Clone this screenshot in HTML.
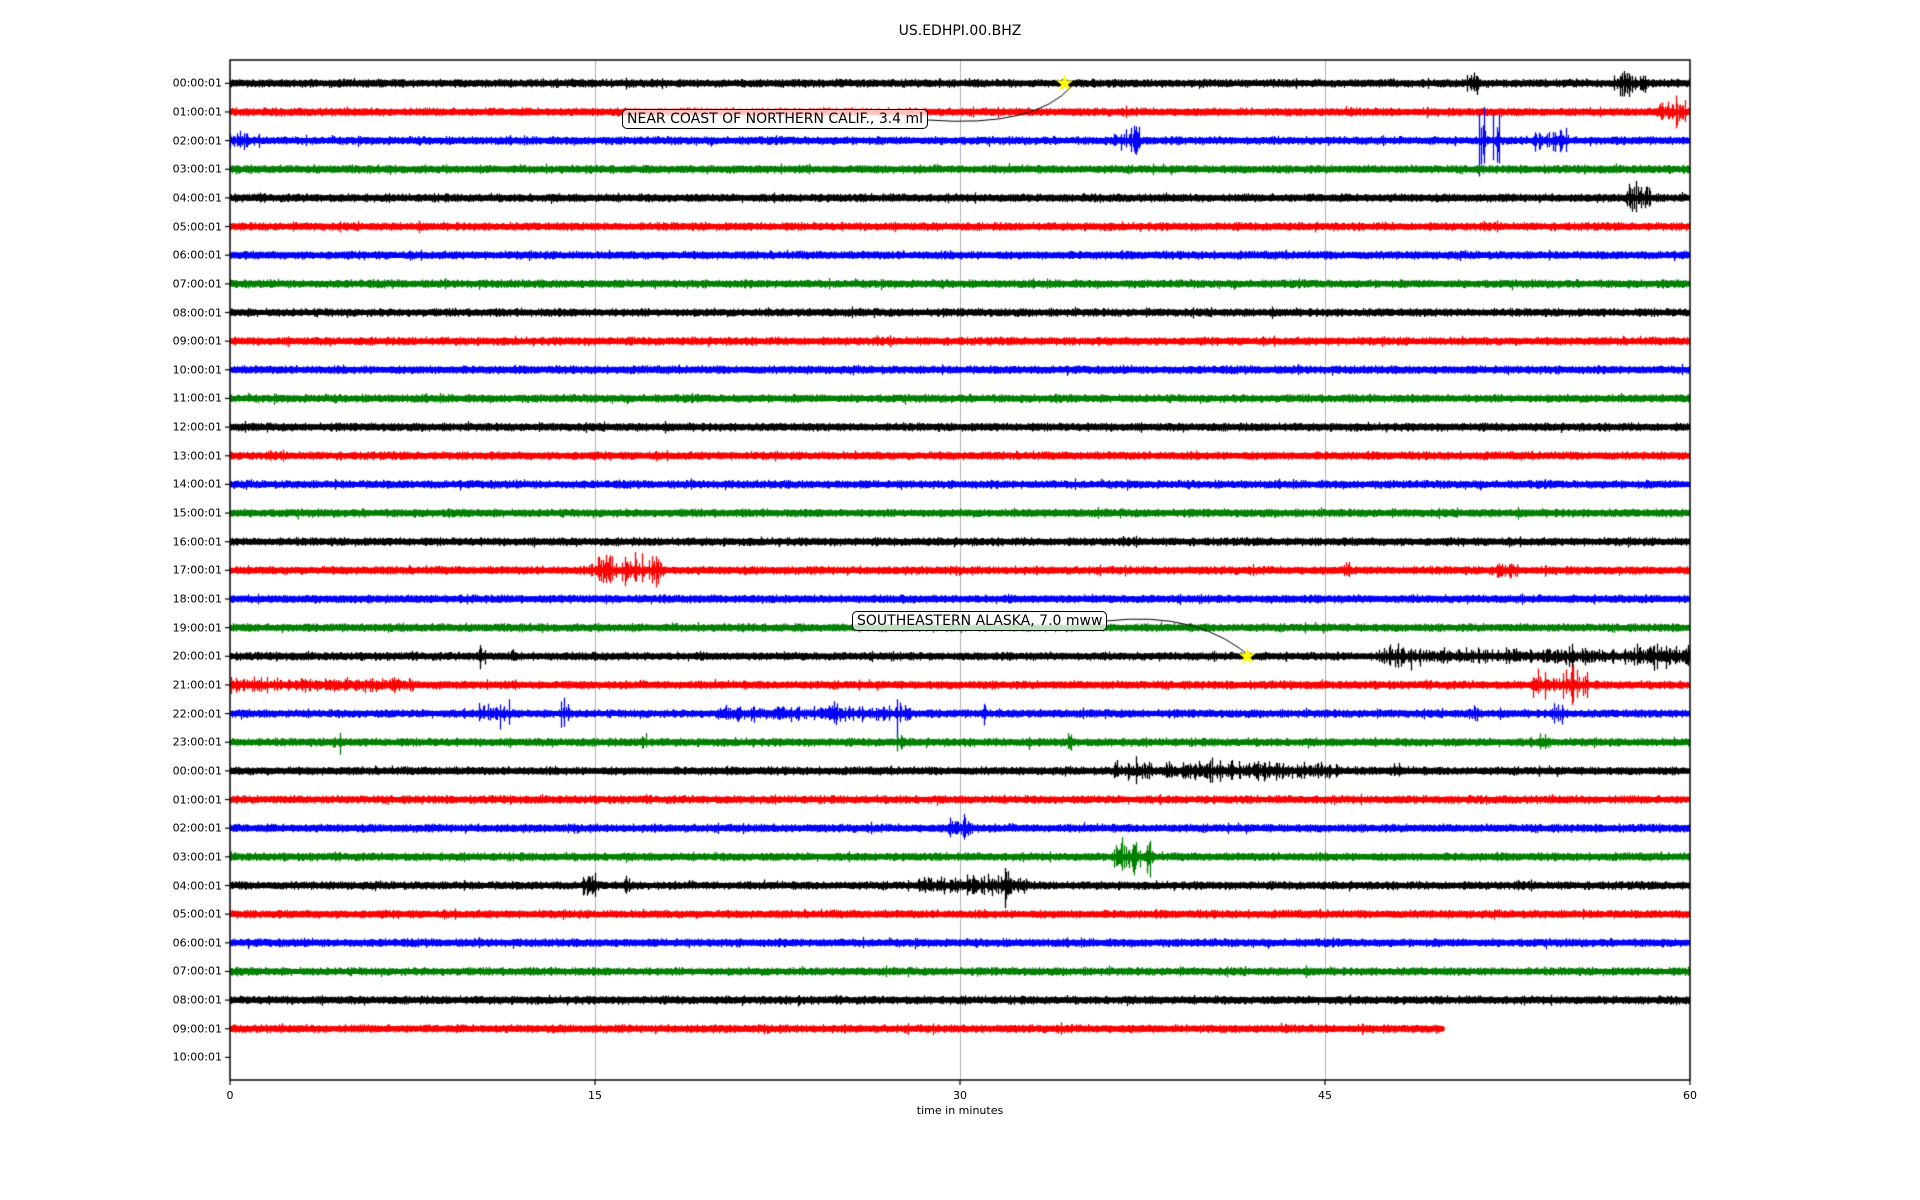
<!DOCTYPE html>
<html><head><meta charset="utf-8"><style>
html,body{margin:0;padding:0;background:#fff;}
body{width:1920px;height:1200px;position:relative;overflow:hidden;font-family:"DejaVu Sans","Liberation Sans",sans-serif;}
canvas{position:absolute;left:0;top:0;}
.t{position:absolute;white-space:nowrap;color:#000;}
.yl{font-size:11px;right:1698px;transform:translateY(-50%);}
.xl{font-size:11px;transform:translateX(-50%);top:1089px;}
.box{position:absolute;font-size:14px;border:1px solid #000;border-radius:5px;background:rgba(255,255,255,0.75);padding:1px 4px;white-space:nowrap;transform:translateY(-50%);}
</style></head><body>
<canvas id="c" width="1920" height="1200"></canvas>
<div class="t" style="left:0;width:1920px;text-align:center;top:23px;font-size:14px;">US.EDHPI.00.BHZ</div>
<div class="t" style="left:0;width:1920px;text-align:center;top:1104px;font-size:11px;">time in minutes</div>
<div id="labels"></div>
<div class="box" style="left:622px;top:119px;">NEAR COAST OF NORTHERN CALIF., 3.4 ml</div>
<div class="box" style="left:852px;top:621px;">SOUTHEASTERN ALASKA, 7.0 mww</div>
<script>
const L=230,R=1690,T=60,B=1080,Y0=83.3,DY=28.65;
const xm=m=>L+(R-L)*m/60;
const ry=r=>Y0+DY*r;
const c=document.getElementById('c').getContext('2d');
let s=12345;function rnd(){s=(s*1103515245+12345)&0x7fffffff;return s/0x7fffffff;}
c.strokeStyle='#b0b0b0';c.lineWidth=1;
[15,30,45].forEach(m=>{c.beginPath();c.moveTo(Math.round(xm(m))+.5,T);c.lineTo(Math.round(xm(m))+.5,B);c.stroke();});
const cols=['#000','#f00','#00f','#008000'];
const ev=[[0,50.8,51.3,8],[0,56.8,58.2,10],[1,58.7,59.8,13],[2,0,1.2,6],[2,36.3,37.4,13],[2,51.3,51.6,30],[2,51.9,52.2,28],[2,53.5,55,10],
[4,57.3,58.4,13],[17,14.8,17.8,14],[17,15.1,15.5,30],[17,45.7,46,5],[17,51.8,53,5],[20,10.1,10.5,10],[20,11.5,11.8,6],[20,47.2,49,10],[20,49,60,5],[20,55,55.2,12],[20,57.8,60,11],
[21,0,7.5,5],[21,53.5,55.8,12],[21,54.9,55.2,25],[22,10.2,11.5,11],[22,13.5,14,12],[22,20,28,5],[22,24.5,26,9],[22,27.4,27.6,20],[22,27.7,28,14],[22,30.9,31.1,12],[22,50.8,51.3,7],[22,54.3,54.8,10],
[23,4.1,4.6,11],[23,16.8,17.1,6],[23,27.4,27.7,12],[23,32.7,33,6],[23,34.3,34.6,10],[23,53.8,54.2,6],
[24,36.3,45.5,7],[24,37.2,37.5,14],[24,40.1,40.4,17],[24,41,41.3,12],[24,42,42.3,14],[24,47.8,48.1,5],
[26,29.5,30.5,8],[26,30.1,30.3,11],[27,36.3,38,15],[28,14.5,15,12],[28,15,15.2,14],[28,16.2,16.5,9],[28,28.3,32.8,8],[28,31.8,32,22],[28,32.4,32.8,12],[32,23.3,23.4,5]];
for(let r=0;r<34;r++){
  const y=ry(r);c.strokeStyle=cols[r%4];c.lineWidth=1.3;
  const end=(r==33)?49.8:60;
  const xe=xm(end);
  c.beginPath();
  for(let x=L;x<xe;x+=1){
    const m=(x-L)/(R-L)*60;
    let a=2.6+rnd()*1.4;
    if(rnd()<0.02)a+=1.5;
    for(const e of ev){if(e[0]==r&&m>=e[1]&&m<=e[2]){a=Math.max(a,3+e[3]*Math.pow(rnd(),2.2));}}
    const up=a*(0.6+rnd()*0.6),dn=a*(0.6+rnd()*0.6);
    c.moveTo(x+.5,y-up);c.lineTo(x+.5,y+dn);
  }
  c.stroke();
  c.lineWidth=5;c.beginPath();c.moveTo(L,y);c.lineTo(xe,y);c.stroke();
  if(r==33){c.lineCap='round';c.lineWidth=6;c.beginPath();c.moveTo(xe-3,y);c.lineTo(xe,y);c.stroke();c.lineCap='butt';}
}
c.strokeStyle='#000';c.lineWidth=1.5;c.strokeRect(L,T,R-L,B-T);
c.lineWidth=1.2;
let lab='';
for(let r=0;r<35;r++){const y=ry(r);c.beginPath();c.moveTo(L-5,y);c.lineTo(L,y);c.stroke();
 const h=String(r%24).padStart(2,'0');lab+=`<div class="t yl" style="top:${y}px">${h}:00:01</div>`;}
[0,15,30,45,60].forEach(m=>{const x=xm(m);c.beginPath();c.moveTo(x,B);c.lineTo(x,B+5);c.stroke();lab+=`<div class="t xl" style="left:${x}px">${m}</div>`;});
document.getElementById('labels').innerHTML=lab;
c.strokeStyle='#000';c.lineWidth=1;
c.beginPath();c.moveTo(928,120);c.quadraticCurveTo(1035,128,1072,86);c.stroke();
c.beginPath();c.moveTo(1106,621);c.quadraticCurveTo(1200,610,1254,660);c.stroke();
function star(x,y,R1){c.fillStyle='#ffff00';c.beginPath();for(let i=0;i<10;i++){const rr=i%2?R1*0.4:R1;const an=-Math.PI/2+i*Math.PI/5;c.lineTo(x+rr*Math.cos(an),y+rr*Math.sin(an));}c.closePath();c.fill();}
star(xm(34.3),ry(0),9);star(xm(41.8),ry(20),9);
</script>
</body></html>
